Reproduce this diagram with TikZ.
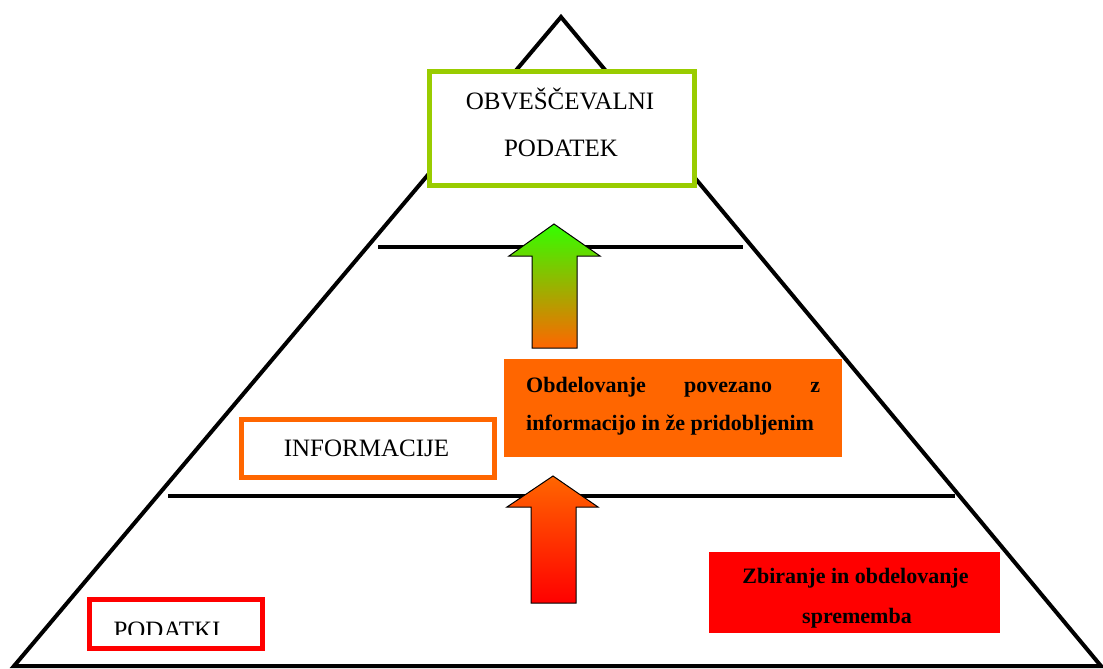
\documentclass[tikz,border=0pt]{standalone}
\usepackage{fontspec}
\setmainfont{Liberation Serif}
\definecolor{lime}{HTML}{99CC00}
\definecolor{fire}{HTML}{FF6600}
\definecolor{alarm}{HTML}{FF0000}
\definecolor{leaf}{HTML}{33FF00}
\begin{document}
\begin{tikzpicture}[x=1pt,y=-1pt,
  frame/.style={draw, line width=5pt, fill=white, inner sep=0pt},
  slab/.style={inner sep=0pt, draw=none},
  rule/.style={line width=4pt},
  uparrow/.style={draw=black, line width=1pt, line join=miter},
  capfont/.style={font=\fontsize{25}{30}\selectfont, anchor=base, inner sep=0pt},
  boldfont/.style={font=\bfseries\fontsize{22}{26}\selectfont, inner sep=0pt}
]
\useasboundingbox (0,0) rectangle (1103,669);
\fill[white] (0,0) rectangle (1103,669);

% pyramid outline
\coordinate (apex) at (561,17);
\coordinate (bl) at (14,666);
\coordinate (br) at (1101,666);
\draw[line width=4pt, line join=miter] (bl) -- (apex) -- (br) -- cycle;

% level dividers
\draw[rule] (378,247) -- (743,247);
\draw[rule] (168,496) -- (955,496);

% arrows between levels
\shadedraw[uparrow, top color=leaf, bottom color=fire]
  (554,224) -- (600,256) -- (577,256) -- (577,348) -- (532,348) -- (532,256) -- (509,256) -- cycle;
\shadedraw[uparrow, top color=fire, bottom color=alarm]
  (553,476) -- (598,507) -- (576,507) -- (576,603) -- (531,603) -- (531,507) -- (507,507) -- cycle;

% top level
\node[frame, draw=lime, minimum width=265pt, minimum height=114pt] (obv) at (562,128.5) {};
\node[capfont] (obvA) at (560,110) {OBVEŠČEVALNI};
\node[capfont] (obvB) at (561,156) {PODATEK};

% middle level
\node[frame, draw=fire, minimum width=253pt, minimum height=58pt] (info) at (368,448.5) {};
\node[capfont] (infotxt) at (366.5,456) {INFORMACIJE};

\node[slab, fill=fire, minimum width=338pt, minimum height=98pt] (proc) at (673,408) {};
\node[boldfont, anchor=base west] (procA) at (526,392)
  {\makebox[294pt][s]{Obdelovanje\hfill povezano\hfill z}};
\node[boldfont, anchor=base west] (procB) at (526,430) {informacijo in že pridobljenim};

% bottom level
\node[slab, fill=alarm, minimum width=291pt, minimum height=81pt] (collect) at (854.5,592.5) {};
\node[boldfont, anchor=base] (collA) at (855.5,583) {Zbiranje in obdelovanje};
\node[boldfont, anchor=base] (collB) at (857,623) {sprememba};

\node[frame, draw=alarm, minimum width=173pt, minimum height=49pt] (data) at (176,624) {};
\begin{scope}
  \clip (87,597) rectangle (265,634);
  \node[capfont] (datatxt) at (167,638) {PODATKI};
\end{scope}
\end{tikzpicture}
\end{document}
